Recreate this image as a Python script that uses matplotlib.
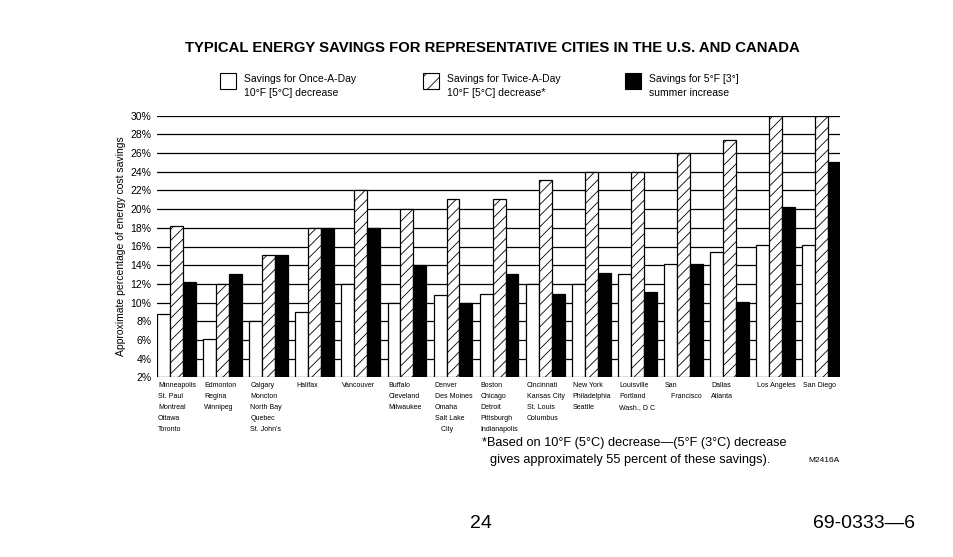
import matplotlib
matplotlib.use("Agg")
import matplotlib.pyplot as plt
import matplotlib.transforms as mtransforms
from matplotlib.patches import Rectangle
import numpy as np

plt.rcParams['font.family'] = ['Liberation Sans', 'DejaVu Sans']
plt.rcParams['hatch.linewidth'] = 0.6

cities = [
    "Minneapolis\nSt. Paul\nMontreal\nOttawa\nToronto",
    "Edmonton\nRegina\nWinnipeg",
    "Calgary\nMoncton\nNorth Bay\nQuebec\nSt. John's",
    "Halifax",
    "Vancouver",
    "Buffalo\nCleveland\nMilwaukee",
    "Denver\nDes Moines\nOmaha\nSalt Lake\n   City",
    "Boston\nChicago\nDetroit\nPittsburgh\nIndianapolis",
    "Cincinnati\nKansas City\nSt. Louis\nColumbus",
    "New York\nPhiladelphia\nSeattle",
    "Louisville\nPortland\nWash., D C",
    "San\n   Francisco",
    "Dallas\nAtlanta",
    "Los Angeles",
    "San Diego",
]
once_a_day = [8.8, 6.1, 8.0, 9.0, 12.0, 10.0, 10.8, 10.9, 12.0, 12.0, 13.1, 14.1, 15.4, 16.2, 16.2]
twice_a_day = [18.2, 12.0, 15.1, 18.0, 22.1, 20.0, 21.1, 21.1, 23.1, 24.0, 24.0, 26.0, 27.4, 30.0, 30.0]
summer_increase = [12.2, 13.1, 15.1, 18.0, 18.0, 14.0, 10.0, 13.1, 10.9, 13.2, 11.1, 14.1, 10.1, 20.2, 25.0]
yticks = list(range(2, 31, 2))
ytick_labels = [f"{t}%" for t in yticks]

legend_labels = [
    "Savings for Once-A-Day\n10\u00b0F [5\u00b0C] decrease",
    "Savings for Twice-A-Day\n10\u00b0F [5\u00b0C] decrease*",
    "Savings for 5\u00b0F [3\u00b0]\nsummer increase",
]

W, H = 954, 557
fig = plt.figure(figsize=(W / 100, H / 100), dpi=100)
ax = fig.add_axes([157 / W, 1 - 377.3 / H, (840 - 157) / W, (377.3 - 115.7) / H])

x = np.arange(len(cities))
bw = 0.28
base = 2
common = dict(edgecolor='black', linewidth=0.9, zorder=3)
ax.bar(x - bw, np.array(once_a_day) - base, bw, bottom=base, color='white', **common)
ax.bar(x, np.array(twice_a_day) - base, bw, bottom=base, color='white', hatch='///', **common)
ax.bar(x + bw, np.array(summer_increase) - base, bw, bottom=base, color='black', **common)

ax.set_xlim(-0.42, 14.395)
ax.set_ylim(2, 30)
ax.set_yticks(yticks)
ax.set_yticklabels(ytick_labels, fontsize=7.5)
ax.tick_params(axis='y', length=0, pad=4)
ax.set_xticks([])
for s in ax.spines.values():
    s.set_visible(False)
ax.yaxis.grid(True, color='black', linewidth=0.9)
ax.set_axisbelow(True)
ax.set_ylabel("Approximate percentage of energy cost savings", fontsize=7.5, labelpad=3)

# category labels
trans = mtransforms.blended_transform_factory(ax.transData, fig.transFigure)
for i, c in enumerate(cities):
    ax.text(i - 0.42 + 0.02, 1 - 382 / H, c, transform=trans, ha='left', va='top',
            fontsize=5, linespacing=1.8)

# title
fig.text(492 / W, 1 - 48 / H, "TYPICAL ENERGY SAVINGS FOR REPRESENTATIVE CITIES IN THE U.S. AND CANADA",
         ha='center', va='center', fontsize=10.75, fontweight='bold')

# legend
sq = 16
leg_x = [220, 423, 625]
styles = [dict(facecolor='white', hatch=None), dict(facecolor='white', hatch='//'),
          dict(facecolor='black', hatch=None)]
for lx, lab, st in zip(leg_x, legend_labels, styles):
    r = Rectangle((lx / W, 1 - 89 / H), sq / W, sq / H, transform=fig.transFigure,
                  edgecolor='black', linewidth=0.8, **st)
    fig.add_artist(r)
    fig.text((lx + 24) / W, 1 - 86 / H, lab, ha='left', va='center', fontsize=7.5, linespacing=1.55)

# footnote
fig.text(482 / W, 1 - 443 / H, "*Based on 10\u00b0F (5\u00b0C) decrease\u2014(5\u00b0F (3\u00b0C) decrease",
         ha='left', va='center', fontsize=9.2)
fig.text(490 / W, 1 - 460 / H, "gives approximately 55 percent of these savings).",
         ha='left', va='center', fontsize=9.2)
fig.text(808 / W, 1 - 460 / H, "M2416A", ha='left', va='center', fontsize=6)

# page footer
fig.text(481 / W, 1 - 524 / H, "24", ha='center', va='center', fontsize=14)
fig.text(915 / W, 1 - 524 / H, "69-0333\u20146", ha='right', va='center', fontsize=14)

fig.savefig("out.png", dpi=100, facecolor='white')
